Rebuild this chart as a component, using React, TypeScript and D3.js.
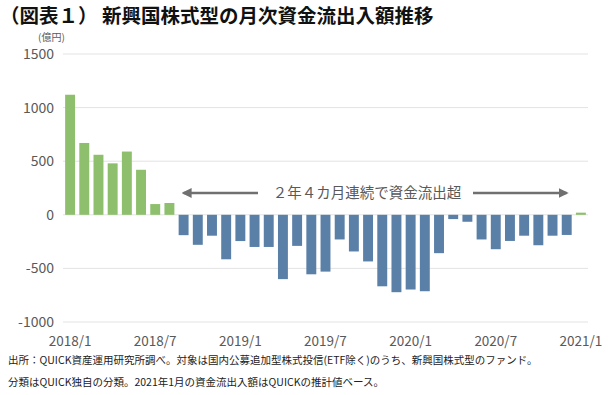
import { useEffect, useRef } from 'react';
import * as d3 from 'd3';

// monthly fund flows, 2018/1 .. 2021/1 (億円)
const months = d3.range(37).map(i => {
  const y = 2018 + Math.floor(i / 12);
  const m = (i % 12) + 1;
  return `${y}/${m}`;
});
const flows = [
  1120, 670, 560, 480, 590, 420, 100, 110,
  -190, -280, -195, -415, -245, -300, -300, -600, -290, -555, -530, -230,
  -342, -435, -667, -722, -697, -713, -358, -40, -65, -230, -321, -244,
  -195, -284, -195, -188,
  20,
];
const tickMonths = ['2018/1', '2018/7', '2019/1', '2019/7', '2020/1', '2020/7', '2021/1'];
const yTicks = [-1000, -500, 0, 500, 1000, 1500];

const title = '（図表１） 新興国株式型の月次資金流出入額推移';
const unit = '(億円)';
const note = '２年４カ月連続で資金流出超';
const source1 = '出所：QUICK資産運用研究所調べ。対象は国内公募追加型株式投信(ETF除く)のうち、新興国株式型のファンド。';
const source2 = '分類はQUICK独自の分類。2021年1月の資金流出入額はQUICKの推計値ベース。';

const App = () => {
  const ref = useRef<SVGSVGElement>(null);

  useEffect(() => {
    const W = 610, H = 395;
    const left = 63, right = 588, top = 54, bottom = 322;
    const font = '"Noto Sans CJK JP", "Noto Sans", sans-serif';
    const grey = '#595959';

    const svg = d3.select(ref.current);
    svg.selectAll('*').remove();
    svg.attr('width', W).attr('height', H);

    svg.append('rect').attr('width', W).attr('height', H).attr('fill', '#fff');

    const x = d3.scaleBand<string>()
      .domain(months)
      .range([left, right])
      .paddingInner(0.3)
      .paddingOuter(0.15);

    const y = d3.scaleLinear()
      .domain([-1000, 1500])
      .range([bottom, top]);

    // title
    svg.append('text')
      .attr('x', 0).attr('y', 23)
      .attr('font-family', font)
      .attr('font-size', 19.5)
      .attr('font-weight', 'bold')
      .attr('fill', '#111')
      .text(title);

    svg.append('text')
      .attr('x', 38).attr('y', 41)
      .attr('font-family', font)
      .attr('font-size', 10)
      .attr('fill', grey)
      .text(unit);

    // gridlines
    svg.append('g')
      .selectAll('line')
      .data(yTicks)
      .join('line')
      .attr('x1', left).attr('x2', right)
      .attr('y1', d => y(d)).attr('y2', d => y(d))
      .attr('stroke', '#e3e3e3')
      .attr('stroke-width', 1);

    // y labels
    svg.append('g')
      .selectAll('text')
      .data(yTicks)
      .join('text')
      .attr('x', 54)
      .attr('y', d => y(d) + 5)
      .attr('text-anchor', 'end')
      .attr('font-family', font)
      .attr('font-size', 14)
      .attr('fill', grey)
      .text(d => d);

    // bars
    svg.append('g')
      .selectAll('rect')
      .data(flows)
      .join('rect')
      .attr('x', (d, i) => x(months[i]))
      .attr('width', x.bandwidth())
      .attr('y', d => y(Math.max(0, d)))
      .attr('height', d => Math.abs(y(d) - y(0)))
      .attr('fill', d => (d >= 0 ? '#8dbf6c' : '#5b80a8'));

    // x labels
    svg.append('g')
      .selectAll('text')
      .data(tickMonths)
      .join('text')
      .attr('x', d => x(d) + x.bandwidth() / 2)
      .attr('y', 346)
      .attr('text-anchor', 'middle')
      .attr('font-family', font)
      .attr('font-size', 13.5)
      .attr('fill', grey)
      .text(d => d);

    // annotation arrows
    const defs = svg.append('defs');
    defs.append('marker')
      .attr('id', 'head')
      .attr('viewBox', '0 0 10 10')
      .attr('refX', 8).attr('refY', 5)
      .attr('markerWidth', 4).attr('markerHeight', 4)
      .attr('orient', 'auto-start-reverse')
      .append('path')
      .attr('d', 'M0,0 L10,5 L0,10 z')
      .attr('fill', '#707070');

    const ay = 193;
    const aStart = x(months[8]) + 5;
    const aEnd = x(months[35]) + x.bandwidth() - 5;
    svg.append('line')
      .attr('x1', aStart).attr('x2', 258)
      .attr('y1', ay).attr('y2', ay)
      .attr('stroke', '#707070').attr('stroke-width', 2.5)
      .attr('marker-start', 'url(#head)');
    svg.append('line')
      .attr('x1', 473).attr('x2', aEnd)
      .attr('y1', ay).attr('y2', ay)
      .attr('stroke', '#707070').attr('stroke-width', 2.5)
      .attr('marker-end', 'url(#head)');
    svg.append('text')
      .attr('x', 367).attr('y', ay + 5)
      .attr('text-anchor', 'middle')
      .attr('font-family', font)
      .attr('font-size', 14.5)
      .attr('fill', grey)
      .text(note);

    // source notes
    [source1, source2].forEach((s, i) => {
      svg.append('text')
        .attr('x', 8).attr('y', 364 + i * 22)
        .attr('font-family', font)
        .attr('font-size', 10.5)
        .attr('fill', '#222')
        .text(s);
    });
  }, []);

  return <svg ref={ref} style={{ position: 'absolute', left: 0, top: 0 }} />;
};

export default App;
